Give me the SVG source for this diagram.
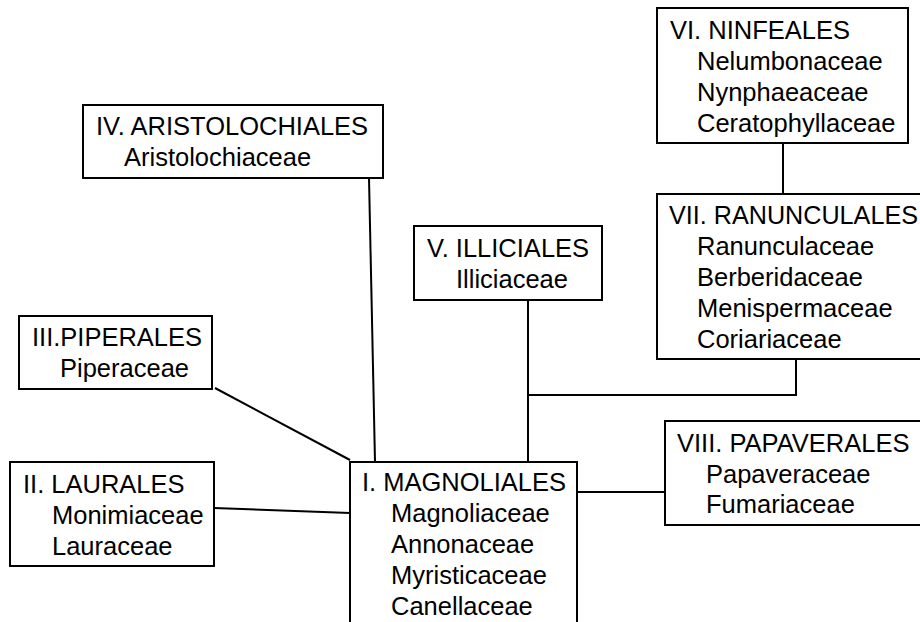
<svg xmlns="http://www.w3.org/2000/svg" width="920" height="622" viewBox="0 0 920 622">
<style>
.box{fill:#fff;stroke:#000;stroke-width:2}
.t{font-family:"Liberation Sans",Arial,sans-serif;font-size:25.5px;fill:#000}
.c{stroke:#000;stroke-width:2;fill:none}
</style>
<rect width="920" height="622" fill="#fff"/>
<g id="connectors">
<line class="c" x1="783" y1="143" x2="783" y2="194"/>
<polyline class="c" points="796,359 796,395 528,395"/>
<line class="c" x1="528" y1="300" x2="528" y2="462"/>
<line class="c" x1="369" y1="178" x2="375" y2="462"/>
<line class="c" x1="215" y1="388" x2="350" y2="460"/>
<line class="c" x1="214" y1="508" x2="350" y2="513"/>
<line class="c" x1="577" y1="492" x2="665" y2="492"/>
</g>
<g id="n6">
<rect class="box" x="657" y="8" width="251" height="135"/>
<text class="t" x="670" y="39">VI. NINFEALES</text>
<text class="t" x="697" y="70">Nelumbonaceae</text>
<text class="t" x="697" y="101">Nynphaeaceae</text>
<text class="t" x="697" y="132">Ceratophyllaceae</text>
</g>
<g id="n7">
<rect class="box" x="657" y="194" width="280" height="165"/>
<text class="t" x="669" y="224" textLength="249" lengthAdjust="spacingAndGlyphs">VII. RANUNCULALES</text>
<text class="t" x="697" y="255">Ranunculaceae</text>
<text class="t" x="697" y="286">Berberidaceae</text>
<text class="t" x="697" y="317">Menispermaceae</text>
<text class="t" x="697" y="348">Coriariaceae</text>
</g>
<g id="n4">
<rect class="box" x="83" y="105" width="300" height="73"/>
<text class="t" x="96" y="135">IV. ARISTOLOCHIALES</text>
<text class="t" x="124" y="166">Aristolochiaceae</text>
</g>
<g id="n5">
<rect class="box" x="414" y="226" width="188" height="74"/>
<text class="t" x="427" y="257">V. ILLICIALES</text>
<text class="t" x="456" y="288">Illiciaceae</text>
</g>
<g id="n3">
<rect class="box" x="19" y="316" width="193" height="73"/>
<text class="t" x="32" y="346">III.PIPERALES</text>
<text class="t" x="60" y="377">Piperaceae</text>
</g>
<g id="n2">
<rect class="box" x="10" y="462" width="204" height="104"/>
<text class="t" x="23" y="493">II. LAURALES</text>
<text class="t" x="52" y="524">Monimiaceae</text>
<text class="t" x="52" y="555">Lauraceae</text>
</g>
<g id="n1">
<rect class="box" x="350" y="462" width="227" height="180"/>
<text class="t" x="362" y="491">I. MAGNOLIALES</text>
<text class="t" x="391" y="522">Magnoliaceae</text>
<text class="t" x="391" y="553">Annonaceae</text>
<text class="t" x="391" y="584">Myristicaceae</text>
<text class="t" x="391" y="615">Canellaceae</text>
</g>
<g id="n8">
<rect class="box" x="665" y="421" width="270" height="104"/>
<text class="t" x="677" y="452">VIII. PAPAVERALES</text>
<text class="t" x="706" y="483">Papaveraceae</text>
<text class="t" x="706" y="513">Fumariaceae</text>
</g>
</svg>
